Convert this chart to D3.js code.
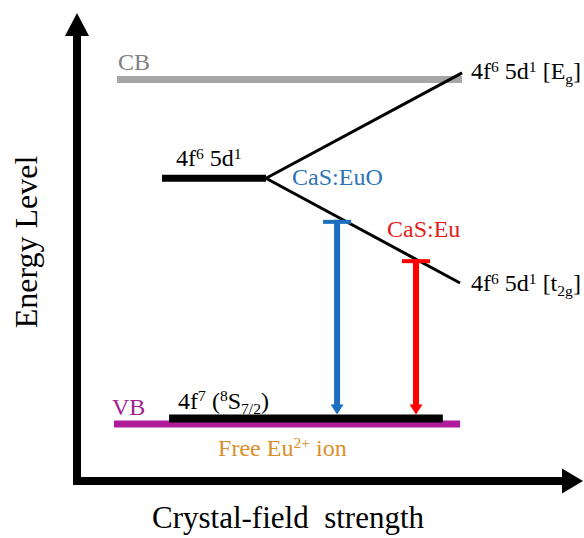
<!DOCTYPE html>
<html>
<head>
<meta charset="utf-8">
<script src="https://cdn.jsdelivr.net/npm/d3@7"></script>
<style>
  body { margin: 0; background: #fff; }
  text, tspan { font-family: "Liberation Serif", serif; white-space: pre; }
</style>
</head>
<body>
<div id="chart"></div>
<script>
// energy levels: [name, start strength, end strength, energy]
const levels = [
  ["CB", 0.79, 7.61, 8.58],
  ["5d", 1.68, 3.735, 6.47],
  ["VB", 0.73, 7.57, 1.22],
  ["4f7", 1.82, 7.23, 1.335],
];
// crystal-field split of the 5d level: [name, end strength, end energy]
const branches = [
  ["Eg", 7.61, 8.72],
  ["t2g", 7.57, 4.23],
];
// emission transitions: [host, strength, upper energy]
const transitions = [
  ["CaS:EuO", 5.14, 5.58],
  ["CaS:Eu", 6.70, 4.74],
];

const COLORS = {
  CB: "#a6a6a6",
  "5d": "#000",
  VB: "#b01c9c",
  "4f7": "#000",
  "CaS:EuO": "#1b6fbe",
  "CaS:Eu": "#ff0000",
};
const FONT = "Liberation Serif";

const W = 584, H = 538;
const svg = d3.select("#chart").append("svg").attr("width", W).attr("height", H);

const x = d3.scaleLinear().domain([0, 10]).range([77, 583]);
const y = d3.scaleLinear().domain([0, 10]).range([481, 13]);

// axes with arrow heads
svg.append("path")
  .attr("d", `M${x(0)},${y(0) - 446}L${x(0)},${y(0)}L${x(0) + 486},${y(0)}`)
  .attr("fill", "none").attr("stroke", "#000").attr("stroke-width", 8)
  .attr("stroke-linejoin", "miter");
svg.append("path")
  .attr("d", `M${x(0)},${y(10)}L${x(0) - 12},${y(10) + 23}L${x(0) + 12},${y(10) + 23}Z`)
  .attr("fill", "#000");
svg.append("path")
  .attr("d", `M${x(10)},${y(0)}L${x(10) - 21},${y(0) - 12.5}L${x(10) - 21},${y(0) + 12.5}Z`)
  .attr("fill", "#000");

const levelByName = {};
levels.forEach((d) => (levelByName[d[0]] = d));

svg.selectAll(".level")
  .data(levels)
  .join("line")
  .attr("class", "level")
  .attr("x1", (d) => x(d[1]))
  .attr("x2", (d) => x(d[2]))
  .attr("y1", (d) => y(d[3]))
  .attr("y2", (d) => y(d[3]))
  .attr("stroke", (d) => COLORS[d[0]])
  .attr("stroke-width", (d) => (d[0] === "4f7" ? 8 : 7));

// split lines start at the free-ion 5d level
const d5 = levelByName["5d"];
svg.selectAll(".branch")
  .data(branches)
  .join("line")
  .attr("class", "branch")
  .attr("x1", x(d5[2]))
  .attr("y1", y(d5[3]))
  .attr("x2", (d) => x(d[1]))
  .attr("y2", (d) => y(d[2]))
  .attr("stroke", "#000")
  .attr("stroke-width", 3);

// transitions: T bar at top, arrow down to the 4f7 level
const ground = y(levelByName["4f7"][3]) - 4;
const tr = svg.selectAll(".trans").data(transitions).join("g").attr("class", "trans");
tr.append("line")
  .attr("x1", (d) => x(d[1])).attr("x2", (d) => x(d[1]))
  .attr("y1", (d) => y(d[2])).attr("y2", ground - 8)
  .attr("stroke", (d) => COLORS[d[0]]).attr("stroke-width", 6);
tr.append("line")
  .attr("x1", (d) => x(d[1]) - 14).attr("x2", (d) => x(d[1]) + 14)
  .attr("y1", (d) => y(d[2]) + 2).attr("y2", (d) => y(d[2]) + 2)
  .attr("stroke", (d) => COLORS[d[0]]).attr("stroke-width", 4);
tr.append("path")
  .attr("d", (d) => `M${x(d[1])},${ground}L${x(d[1]) - 6.5},${ground - 10}L${x(d[1]) + 6.5},${ground - 10}Z`)
  .attr("fill", (d) => COLORS[d[0]]);

// text with super/subscripts
function rich(px, py, parts, opts) {
  const size = opts.size || 24;
  const t = svg.append("text")
    .attr("x", px).attr("y", py)
    .attr("font-family", FONT)
    .attr("font-size", size)
    .attr("fill", opts.fill || "#000")
    .attr("text-anchor", opts.anchor || "start");
  if (opts.rotate) t.attr("transform", `rotate(${opts.rotate},${px},${py})`);
  let off = 0;
  parts.forEach((p) => {
    const [s, kind] = Array.isArray(p) ? p : [p, null];
    const target = kind === "sup" ? -0.3 * size : kind === "sub" ? 0.22 * size : 0;
    const ts = t.append("tspan").text(s).attr("dy", target - off).attr("font-family", FONT);
    if (kind) ts.attr("font-size", size * 0.65);
    off = target;
  });
  return t;
}

const lv = (n) => levelByName[n];
const br = (n) => branches.find((d) => d[0] === n);
const trn = (n) => transitions.find((d) => d[0] === n);

rich(x(lv("CB")[1]) + 1, y(lv("CB")[3]) - 9, ["CB"], { fill: "#808080" });
rich(x(lv("VB")[1]) - 2, y(lv("VB")[3]) - 9, ["VB"], { fill: "#a0208f" });
rich(x(d5[1]) + 14, y(d5[3]) - 12, ["4f", ["6", "sup"], " 5d", ["1", "sup"]], {});
rich(x(br("Eg")[1]) + 9, y(br("Eg")[2]) + 6, ["4f", ["6", "sup"], " 5d", ["1", "sup"], " [E", ["g", "sub"], "]"], {});
rich(x(br("t2g")[1]) + 11, y(br("t2g")[2]) + 8, ["4f", ["6", "sup"], " 5d", ["1", "sup"], " [t", ["2g", "sub"], "]"], {});
rich(x(trn("CaS:EuO")[1]) - 45, y(trn("CaS:EuO")[2]) - 35, ["CaS:EuO"], { fill: "#2e74b5" });
rich(x(trn("CaS:Eu")[1]) - 29, y(trn("CaS:Eu")[2]) - 22, ["CaS:Eu"], { fill: "#e31c1c" });
rich(x(lv("4f7")[1]) + 9, y(lv("4f7")[3]) - 10, ["4f", ["7", "sup"], " (", ["8", "sup"], "S", ["7/2", "sub"], ")"], {});
rich(x(lv("4f7")[1]) + 49, y(lv("4f7")[3]) + 37, ["Free Eu", ["2+", "sup"], " ion"], { fill: "#d98f2b" });

rich(288, 528, ["Crystal-field  strength"], { size: 31, anchor: "middle" });
rich(37, 242, ["Energy Level"], { size: 32, anchor: "middle", rotate: -90 });
</script>
</body>
</html>
